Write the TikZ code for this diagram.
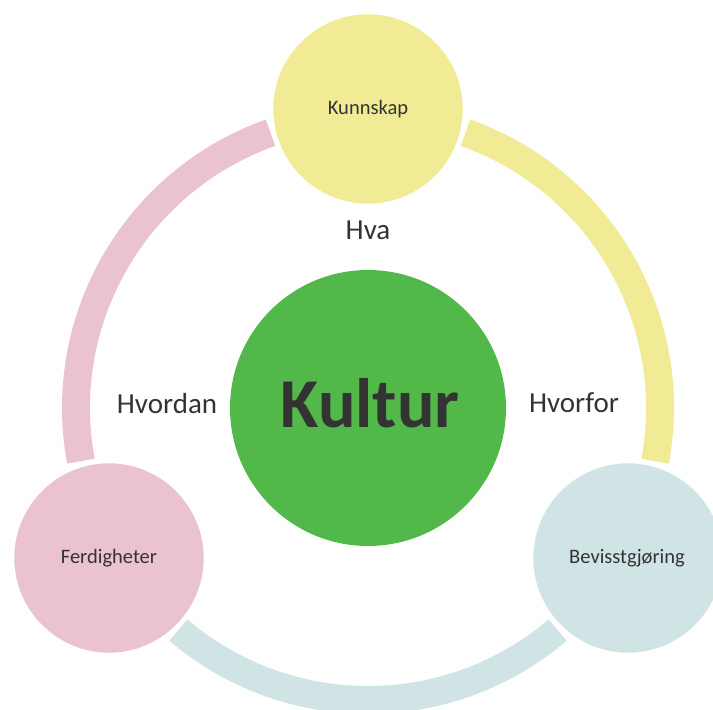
\documentclass[tikz,border=0pt]{standalone}
\usepackage{fontspec}
\setmainfont{Carlito}
\usepackage{tikz}
\usepackage{xcolor}

\definecolor{kunnskapcol}{HTML}{F0EB94}
\definecolor{ferdighetcol}{HTML}{EBC3CE}
\definecolor{bevisstcol}{HTML}{D1E4E5}
\definecolor{kulturcol}{HTML}{52B84A}
\definecolor{textgray}{HTML}{333333}

\begin{document}
\begin{tikzpicture}[x=1pt, y=1pt]
    \useasboundingbox (0, 0) rectangle (713, 710);

    % Define styles for circles, labels and ring arcs
    \tikzstyle{cycle} = [circle, minimum size=192pt, inner sep=0pt, draw=white, line width=2.5pt, text=textgray, font=\fontsize{20.5}{24}\selectfont]
    \tikzstyle{question} = [anchor=base, text=textgray, font=\fontsize{29}{34}\selectfont]
    \tikzstyle{ringarc} = [line width=28pt, line cap=butt]

    \coordinate (center) at (368, 302);

    % ring
    \draw [ringarc, ferdighetcol] (center) ++(109.5:292) arc[start angle=109.5, end angle=190.5, radius=292];
    \draw [ringarc, bevisstcol] (center) ++(229.5:292) arc[start angle=229.5, end angle=310.5, radius=292];
    \draw [ringarc, kunnskapcol] (center) ++(-10.5:292) arc[start angle=-10.5, end angle=70.5, radius=292];

    % circles
    \node (kunnskap) [cycle, fill=kunnskapcol] at (368, 601) {};
    \node (ferdigheter) [cycle, fill=ferdighetcol] at (109, 152) {};
    \node (bevisst) [cycle, fill=bevisstcol] at (628, 152) {};
    \node (kultur) [circle, minimum size=276pt, inner sep=0pt, fill=kulturcol] at (center) {};

    % texts
    \node (kunnskaptxt) [anchor=base, text=textgray, font=\fontsize{20.5}{24}\selectfont] at (368, 595) {Kunnskap};
    \node (ferdighettxt) [anchor=base, text=textgray, font=\fontsize{20.5}{24}\selectfont] at (109, 146) {Ferdigheter};
    \node (bevissttxt) [anchor=base, text=textgray, font=\fontsize{20.5}{24}\selectfont] at (627, 146) {Bevisstgjøring};
    \node (kulturtxt) [anchor=base, text=textgray, font=\fontsize{70}{80}\selectfont\bfseries] at (370, 282) {Kultur};

    \node (hva) [question] at (368, 470) {Hva};
    \node (hvordan) [question] at (167, 296) {Hvordan};
    \node (hvorfor) [question] at (574, 297) {Hvorfor};
\end{tikzpicture}
\end{document}
